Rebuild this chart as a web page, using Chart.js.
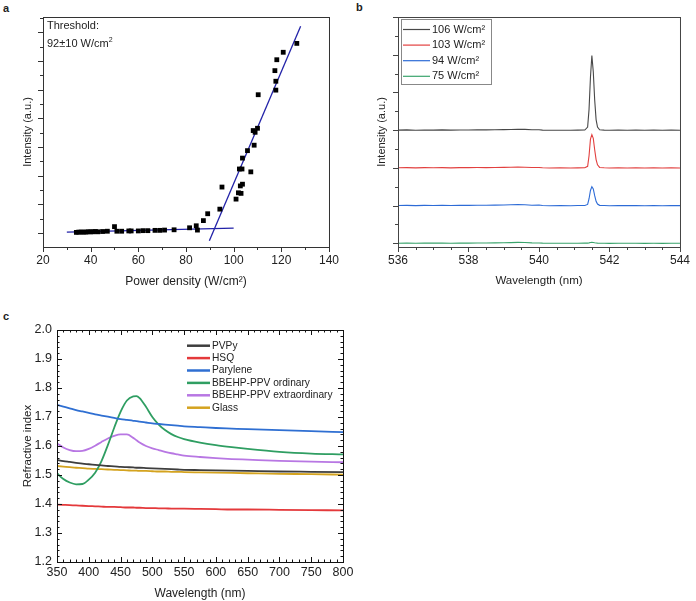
<!DOCTYPE html>
<html>
<head>
<meta charset="utf-8">
<script src="https://cdn.jsdelivr.net/npm/chart.js@4.4.0/dist/chart.umd.min.js"></script>
<style>
html, body { margin: 0; padding: 0; background: #fff; }
body { width: 696px; height: 601px; position: relative; overflow: hidden; font-family: "Liberation Sans", Arial, sans-serif; color: #222; }
.panel { position: absolute; }
.tag { position: absolute; font: bold 11px "Liberation Sans", Arial, sans-serif; line-height: 12px; }
.note { position: absolute; font: 11px "Liberation Sans", Arial, sans-serif; line-height: 18px; }
.note sup { font-size: 7px; line-height: 0; }
</style>
</head>
<body>
<div class="tag" style="left:3px;top:2px">a</div>
<div class="tag" style="left:356px;top:1px">b</div>
<div class="tag" style="left:3px;top:310px">c</div>

<div class="panel" style="left:0;top:0"><canvas id="chartA" width="345" height="300"></canvas></div>
<div class="panel" style="left:345px;top:0"><canvas id="chartB" width="351" height="300"></canvas></div>
<div class="panel" style="left:0;top:300px"><canvas id="chartC" width="360" height="301"></canvas></div>

<div class="note" style="left:47px;top:16px">Threshold:<br>92±10 W/cm<sup>2</sup></div>

<script>
// ---- panel a: lasing threshold ----
const powerDensity = [34, 35, 36, 37, 38, 39, 40, 41, 42, 43, 45, 47, 50, 51, 53, 56, 57, 60, 62, 64,
    67, 69, 71, 75, 81.5, 84.3, 84.8, 87.3, 89.1, 94.2, 95.1, 101, 102, 102.4, 102.8, 103.1, 103.5, 103.7, 103.7, 105.8,
    107.2, 108.2, 108.6, 109, 110, 110.3, 117.3, 117.7, 117.7, 118.1, 120.8, 126.5];
const intensity = [0.02, 0.03, 0.03, 0.03, 0.03, 0.04, 0.04, 0.04, 0.05, 0.04, 0.05, 0.06, 0.22, 0.06, 0.06, 0.07, 0.07, 0.07, 0.08, 0.08,
    0.09, 0.09, 0.10, 0.11, 0.18, 0.25, 0.10, 0.43, 0.67, 0.83, 1.60, 1.18, 1.40, 2.23, 1.64, 1.38, 2.23, 1.70, 2.61, 2.87,
    2.13, 3.57, 3.06, 3.51, 3.65, 4.82, 5.66, 5.29, 4.98, 6.04, 6.30, 6.61];
const fitBelowX = [30, 100];
const fitBelowY = [0.03, 0.17];
const fitAboveX = [89.8, 128.1];
const fitAboveY = [-0.27, 7.21];

// ---- panel b: emission spectra ----
const wavelengthB = [536, 536.25, 536.5, 536.75, 537, 537.25, 537.5, 537.75, 538, 538.25, 538.5, 538.75, 539, 539.2, 539.4,
    539.6, 539.8, 540, 540.1, 540.3, 540.6, 540.9, 541.1, 541.3, 541.38, 541.42, 541.46, 541.5, 541.54, 541.58,
    541.62, 541.66, 541.72, 541.85, 542, 542.25, 542.5, 542.75, 543, 543.25, 543.5, 543.75, 544];
const spec106 = [3.000, 3.006, 2.998, 3.004, 3.001, 3.006, 2.999, 3.005, 3.004, 3.008, 3.006, 3.011, 3.013, 3.018, 3.022,
    3.019, 3.008, 3.010, 3.001, 2.995, 2.997, 2.995, 2.999, 3.002, 3.08, 3.55, 4.40, 4.98, 4.55, 3.80,
    3.28, 3.08, 3.01, 3.001, 2.996, 3.001, 2.997, 3.000, 2.995, 2.999, 2.996, 3.000, 2.997];
const spec103 = [2.000, 2.005, 1.998, 2.004, 2.002, 2.006, 1.999, 2.005, 2.004, 2.007, 2.006, 2.010, 2.012, 2.016, 2.019,
    2.017, 2.008, 2.009, 2.001, 1.996, 1.998, 1.996, 1.999, 2.002, 2.04, 2.32, 2.76, 2.88, 2.78, 2.48,
    2.22, 2.08, 2.01, 2.001, 1.996, 2.001, 1.997, 2.000, 1.996, 1.999, 1.996, 2.000, 1.997];
const spec94 = [1.000, 1.005, 0.998, 1.004, 1.002, 1.006, 0.999, 1.005, 1.004, 1.008, 1.007, 1.011, 1.014, 1.019, 1.023,
    1.020, 1.009, 1.012, 1.001, 0.996, 0.998, 0.996, 0.999, 1.002, 1.03, 1.18, 1.40, 1.50, 1.44, 1.26,
    1.11, 1.04, 1.005, 1.001, 0.996, 1.001, 0.997, 1.000, 0.996, 0.999, 0.996, 1.000, 0.997];
const spec75 = [0.000, 0.005, -0.002, 0.004, 0.002, 0.006, 0.000, 0.005, 0.004, 0.007, 0.006, 0.010, 0.012, 0.016, 0.022,
    0.018, 0.009, 0.008, 0.002, -0.002, 0.000, -0.002, 0.000, 0.002, 0.004, 0.010, 0.018, 0.024, 0.020, 0.012,
    0.006, 0.003, 0.001, 0.000, -0.003, 0.001, -0.002, 0.000, -0.003, -0.001, -0.003, 0.000, -0.002];
const specLabels = ['106 W/cm²', '103 W/cm²', '94 W/cm²', '75 W/cm²'];

// ---- panel c: refractive index ----
const wavelengthC = [350, 360, 370, 380, 390, 400, 410, 420, 430, 440, 450, 460, 470, 475, 480, 490, 500, 510, 520, 530,
    540, 550, 575, 600, 625, 650, 700, 750, 800];
const nPVPy = [1.552, 1.548, 1.545, 1.542, 1.539, 1.537, 1.535, 1.533, 1.531, 1.530, 1.528, 1.527, 1.526, 1.525, 1.525, 1.524, 1.523, 1.522, 1.521, 1.520,
    1.519, 1.518, 1.517, 1.516, 1.515, 1.514, 1.512, 1.511, 1.510];
const nHSQ = [1.398, 1.397, 1.396, 1.395, 1.394, 1.393, 1.392, 1.391, 1.390, 1.390, 1.389, 1.388, 1.388, 1.387, 1.387, 1.386, 1.386, 1.385, 1.385, 1.384,
    1.384, 1.384, 1.383, 1.382, 1.381, 1.381, 1.380, 1.379, 1.378];
const nParylene = [1.742, 1.736, 1.730, 1.724, 1.719, 1.714, 1.709, 1.705, 1.701, 1.697, 1.693, 1.690, 1.687, 1.686, 1.684, 1.681, 1.678, 1.676, 1.674, 1.672,
    1.670, 1.668, 1.665, 1.662, 1.660, 1.658, 1.655, 1.651, 1.648];
const nOrdinary = [1.506, 1.486, 1.474, 1.468, 1.469, 1.484, 1.508, 1.548, 1.603, 1.663, 1.718, 1.757, 1.771, 1.772, 1.765, 1.735, 1.700, 1.674, 1.655, 1.641,
    1.631, 1.624, 1.612, 1.603, 1.596, 1.590, 1.580, 1.574, 1.571];
const nExtraordinary = [1.609, 1.595, 1.586, 1.582, 1.583, 1.590, 1.601, 1.614, 1.626, 1.635, 1.640, 1.640, 1.628, 1.620, 1.612, 1.600, 1.592, 1.586, 1.580, 1.575,
    1.571, 1.567, 1.562, 1.558, 1.555, 1.553, 1.549, 1.546, 1.544];
const nGlass = [1.531, 1.529, 1.527, 1.525, 1.524, 1.522, 1.521, 1.520, 1.519, 1.518, 1.517, 1.516, 1.515, 1.515, 1.514, 1.514, 1.513, 1.512, 1.512, 1.511,
    1.511, 1.510, 1.509, 1.508, 1.507, 1.506, 1.504, 1.503, 1.501];
const materialLabels = ['PVPy', 'HSQ', 'Parylene', 'BBEHP-PPV ordinary', 'BBEHP-PPV extraordinary', 'Glass'];

Chart.defaults.font.family = '"Liberation Sans", Arial, sans-serif';
Chart.defaults.color = '#222';

const pts = (xs, ys) => xs.map((x, i) => ({ x: x, y: ys[i] }));

function stepValues(min, max, step, from) {
    const out = [];
    const lo = from !== undefined ? Math.max(min, from) : min;
    const n0 = Math.ceil(lo / step - 1e-9), n1 = Math.floor(max / step + 1e-9);
    for (let n = n0; n <= n1; n++) out.push(n * step);
    return out;
}

// frame box plus major/minor tick marks (Chart.js has no minor ticks)
const frameTicks = {
    id: 'frameTicks',
    afterDatasetsDraw(chart, args, o) {
        const { ctx, chartArea: a, scales } = chart;
        ctx.save();
        ctx.strokeStyle = o.color;
        ctx.lineWidth = 1;
        ctx.strokeRect(a.left + 0.5, a.top + 0.5, a.right - a.left, a.bottom - a.top);
        const dir = o.inward ? -1 : 1;
        ['x', 'y'].forEach(k => {
            const s = scales[k], t = o[k];
            stepValues(s.min, s.max, t.minor, t.from).forEach(v => {
                const major = Math.abs(v / t.major - Math.round(v / t.major)) < 1e-6;
                const len = major ? o.majorLen : o.minorLen;
                const p = Math.round(s.getPixelForValue(v)) + 0.5;
                ctx.beginPath();
                if (k === 'x') {
                    ctx.moveTo(p, a.bottom); ctx.lineTo(p, a.bottom + dir * len);
                    if (o.mirror) { ctx.moveTo(p, a.top); ctx.lineTo(p, a.top - dir * len); }
                } else {
                    ctx.moveTo(a.left, p); ctx.lineTo(a.left - dir * len, p);
                    if (o.mirror) { ctx.moveTo(a.right, p); ctx.lineTo(a.right + dir * len, p); }
                }
                ctx.stroke();
            });
        });
        ctx.restore();
    }
};

// legend drawn inside the plot area
const innerLegend = {
    id: 'innerLegend',
    afterDatasetsDraw(chart, args, o) {
        if (!o.display) return;
        const ctx = chart.ctx;
        ctx.save();
        if (o.box) {
            ctx.strokeStyle = o.box.color;
            ctx.lineWidth = 1;
            ctx.fillStyle = '#fff';
            ctx.fillRect(o.box.x, o.box.y, o.box.w, o.box.h);
            ctx.strokeRect(o.box.x + 0.5, o.box.y + 0.5, o.box.w, o.box.h);
        }
        ctx.font = o.font;
        ctx.textBaseline = 'middle';
        chart.data.datasets.forEach((ds, i) => {
            const y = o.y + i * o.rowH;
            ctx.strokeStyle = ds.borderColor;
            ctx.lineWidth = o.lineWidth;
            ctx.beginPath();
            ctx.moveTo(o.x, y); ctx.lineTo(o.x + o.lineLen, y);
            ctx.stroke();
            ctx.fillStyle = '#222';
            ctx.fillText(ds.label, o.x + o.lineLen + o.gap, y);
        });
        ctx.restore();
    }
};

const baseOpts = { responsive: false, animation: false, devicePixelRatio: 1, events: [] };

// panel a
new Chart(document.getElementById('chartA'), {
    type: 'scatter',
    data: {
        datasets: [
            { label: 'Intensity', data: pts(powerDensity, intensity), pointStyle: 'rect', pointRadius: 3.4,
              backgroundColor: '#000', borderColor: '#000', borderWidth: 0 },
            { label: 'Below', data: pts(fitBelowX, fitBelowY), showLine: true, pointRadius: 0,
              borderColor: '#2222a8', borderWidth: 1.3 },
            { label: 'Above', data: pts(fitAboveX, fitAboveY), showLine: true, pointRadius: 0,
              borderColor: '#2222a8', borderWidth: 1.3 }
        ]
    },
    options: {
        ...baseOpts,
        layout: { padding: { top: 17, right: 15, left: 0, bottom: 0 } },
        plugins: {
            legend: { display: false }, tooltip: { enabled: false },
            innerLegend: { display: false },
            frameTicks: { color: '#333', inward: false, mirror: false, majorLen: 5, minorLen: 3,
                x: { major: 20, minor: 10 }, y: { major: 1, minor: 0.5, from: 0 } }
        },
        scales: {
            x: {
                type: 'linear', min: 20, max: 140,
                grid: { display: false, drawTicks: false }, border: { display: false },
                ticks: { stepSize: 20, padding: 6, font: { size: 12 } },
                title: { display: true, text: 'Power density (W/cm²)', font: { size: 12 }, padding: { top: 0, bottom: 11 } },
                afterFit(s) { s.height = 53; }
            },
            y: {
                type: 'linear', min: -0.49, max: 7.53,
                grid: { display: false, drawTicks: false }, border: { display: false },
                ticks: { display: false, stepSize: 1 },
                title: { display: true, text: 'Intensity (a.u.)', font: { size: 11 }, padding: { top: 21, bottom: 0 } },
                afterFit(s) { s.width = 43; }
            }
        }
    },
    plugins: [frameTicks, innerLegend]
});

// panel b
const specColors = ['#484848', '#e2403f', '#2d6bd6', '#3aa46c'];
const specSeries = [spec106, spec103, spec94, spec75];
new Chart(document.getElementById('chartB'), {
    type: 'line',
    data: {
        datasets: specSeries.map((s, i) => ({
            label: specLabels[i], data: pts(wavelengthB, s), borderColor: specColors[i],
            borderWidth: 1.1, pointRadius: 0, tension: 0
        }))
    },
    options: {
        ...baseOpts,
        layout: { padding: { top: 17, right: 11, left: 0, bottom: 0 } },
        plugins: {
            legend: { display: false }, tooltip: { enabled: false },
            innerLegend: { display: true, x: 58, y: 29.5, rowH: 15.6, lineLen: 27, gap: 2, lineWidth: 1.2,
                font: '11px "Liberation Sans", Arial, sans-serif',
                box: { x: 56, y: 19, w: 90, h: 65, color: '#888' } },
            frameTicks: { color: '#444', inward: false, mirror: false, majorLen: 5, minorLen: 3,
                x: { major: 2, minor: 0.5 }, y: { major: 1, minor: 0.5, from: 0 } }
        },
        scales: {
            x: {
                type: 'linear', min: 536, max: 544,
                grid: { display: false, drawTicks: false }, border: { display: false },
                ticks: { stepSize: 2, padding: 6, font: { size: 12 } },
                title: { display: true, text: 'Wavelength (nm)', font: { size: 11.5 }, padding: { top: 0, bottom: 12 } },
                afterFit(s) { s.height = 53; }
            },
            y: {
                type: 'linear', min: -0.1, max: 6.0,
                grid: { display: false, drawTicks: false }, border: { display: false },
                ticks: { display: false, stepSize: 1 },
                title: { display: true, text: 'Intensity (a.u.)', font: { size: 11 }, padding: { top: 30, bottom: 0 } },
                afterFit(s) { s.width = 53; }
            }
        }
    },
    plugins: [frameTicks, innerLegend]
});

// panel c
const materialColors = ['#3e3e3e', '#e4393b', '#2f6fd2', '#2f9e62', '#b877e3', '#d4a31f'];
const materialSeries = [nPVPy, nHSQ, nParylene, nOrdinary, nExtraordinary, nGlass];
new Chart(document.getElementById('chartC'), {
    type: 'line',
    data: {
        datasets: materialSeries.map((s, i) => ({
            label: materialLabels[i], data: pts(wavelengthC, s), borderColor: materialColors[i],
            borderWidth: 1.8, pointRadius: 0, cubicInterpolationMode: 'monotone'
        }))
    },
    options: {
        ...baseOpts,
        layout: { padding: { top: 30, right: 17, left: 0, bottom: 0 } },
        plugins: {
            legend: { display: false }, tooltip: { enabled: false },
            innerLegend: { display: true, x: 187, y: 45.7, rowH: 12.4, lineLen: 23, gap: 2, lineWidth: 2.5,
                font: '10.2px "Liberation Sans", Arial, sans-serif' },
            frameTicks: { color: '#111', inward: true, mirror: true, majorLen: 5, minorLen: 2.5,
                x: { major: 50, minor: 10 }, y: { major: 0.1, minor: 0.02 } }
        },
        scales: {
            x: {
                type: 'linear', min: 350, max: 800,
                grid: { display: false, drawTicks: false }, border: { display: false },
                ticks: { stepSize: 50, padding: 3, font: { size: 12.5 } },
                title: { display: true, text: 'Wavelength (nm)', font: { size: 12 }, padding: { top: 0, bottom: 0 } },
                afterFit(s) { s.height = 39; }
            },
            y: {
                type: 'linear', min: 1.2, max: 2.0,
                grid: { display: false, drawTicks: false }, border: { display: false },
                ticks: { stepSize: 0.1, padding: 5, font: { size: 12.5 }, callback: v => v.toFixed(1) },
                title: { display: true, text: 'Refractive index', font: { size: 11.5 }, padding: { top: 21, bottom: 0 } },
                afterFit(s) { s.width = 57; }
            }
        }
    },
    plugins: [frameTicks, innerLegend]
});
</script>
</body>
</html>
